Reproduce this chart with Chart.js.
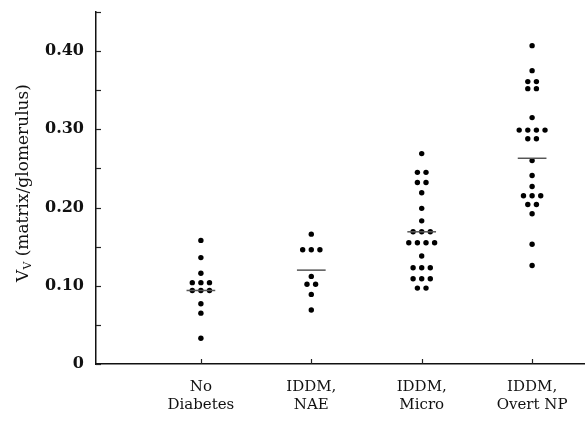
<!DOCTYPE html>
<html>
<head>
<meta charset="utf-8">
<script src="https://cdn.jsdelivr.net/npm/chart.js@4.4.1/dist/chart.umd.min.js"></script>
<style>
  html, body { margin: 0; padding: 0; background: #fff; }
  #wrap { width: 588px; height: 422px; position: relative; }
</style>
</head>
<body>
<div id="wrap"><canvas id="vvChart"></canvas></div>
<script>
// groups on the x axis
const groupLabels = [['No', 'Diabetes'], ['IDDM,', 'NAE'], ['IDDM,', 'Micro'], ['IDDM,', 'Overt NP']];

// Vv values (equal values sit side by side in a row)
const noDiabetes = [0.158, 0.136, 0.116, 0.104, 0.104, 0.104, 0.094, 0.094, 0.094, 0.077, 0.065, 0.033];
const iddmNae = [0.166, 0.146, 0.146, 0.146, 0.112, 0.102, 0.102, 0.089, 0.069];
const iddmMicro = [0.269, 0.245, 0.245, 0.232, 0.232, 0.219, 0.199, 0.183, 0.169, 0.169, 0.169,
    0.155, 0.155, 0.155, 0.155, 0.138, 0.123, 0.123, 0.123, 0.109, 0.109, 0.109, 0.097, 0.097];
const iddmOvert = [0.407, 0.375, 0.361, 0.361, 0.352, 0.352, 0.315, 0.299, 0.299, 0.299, 0.299,
    0.288, 0.288, 0.260, 0.241, 0.227, 0.215, 0.215, 0.215, 0.204, 0.204, 0.192, 0.153, 0.126];
const medians = [0.094, 0.120, 0.169, 0.263];

const yTickValues = [0, 0.10, 0.20, 0.30, 0.40];

const SLOT = 0.078;     // horizontal spacing of dots sharing a value (x units)
const HALF_BAR = 0.13;  // half width of the median bar

// spread points with equal value side by side, centred on the group
function dotPoints(values, groupIndex) {
    const rows = new Map();
    values.forEach(v => rows.set(v, (rows.get(v) || 0) + 1));
    const points = [];
    rows.forEach((count, v) => {
        for (let i = 0; i < count; i++) {
            points.push({ x: groupIndex + 1 + (i - (count - 1) / 2) * SLOT, y: v });
        }
    });
    return points;
}

const allGroups = [noDiabetes, iddmNae, iddmMicro, iddmOvert];

const datasets = [];
allGroups.forEach((values, i) => {
    datasets.push({
        type: 'line',
        data: [{ x: i + 1 - HALF_BAR, y: medians[i] }, { x: i + 1 + HALF_BAR, y: medians[i] }],
        borderColor: '#555',
        borderWidth: 1.5,
        pointRadius: 0,
        fill: false
    });
    datasets.push({
        type: 'scatter',
        data: dotPoints(values, i),
        backgroundColor: '#000',
        borderColor: '#000',
        borderWidth: 0,
        pointRadius: 2.7
    });
});

// inward tick marks and the rotated y title with subscript
const extrasPlugin = {
    id: 'extras',
    afterDraw(chart) {
        const ctx = chart.ctx;
        const xs = chart.scales.x;
        const ys = chart.scales.y;
        const area = chart.chartArea;
        ctx.save();
        ctx.strokeStyle = '#222';
        ctx.lineWidth = 1.2;
        ys.ticks.forEach(t => {
            const py = Math.round(ys.getPixelForValue(t.value)) + 0.5;
            ctx.beginPath();
            ctx.moveTo(area.left, py);
            ctx.lineTo(area.left + 5, py);
            ctx.stroke();
        });
        xs.ticks.forEach(t => {
            const px = Math.round(xs.getPixelForValue(t.value)) + 0.5;
            ctx.beginPath();
            ctx.moveTo(px, area.bottom);
            ctx.lineTo(px, area.bottom - 5);
            ctx.stroke();
        });

        // y axis title
        ctx.translate(28, 183);
        ctx.rotate(-Math.PI / 2);
        ctx.fillStyle = '#111';
        ctx.textBaseline = 'alphabetic';
        const big = '17px "DejaVu Serif"';
        const small = '11px "DejaVu Serif"';
        const rest = ' (matrix/glomerulus)';
        ctx.font = big;
        const wV = ctx.measureText('V').width;
        const wRest = ctx.measureText(rest).width;
        ctx.font = small;
        const wSub = ctx.measureText('V').width;
        let x = -(wV + wSub + wRest) / 2;
        ctx.font = big;
        ctx.fillText('V', x, 0);
        x += wV;
        ctx.font = small;
        ctx.fillText('V', x, 3);
        x += wSub;
        ctx.font = big;
        ctx.fillText(rest, x, 0);
        ctx.restore();
    }
};

new Chart(document.getElementById('vvChart'), {
    data: { datasets: datasets },
    options: {
        responsive: true,
        maintainAspectRatio: false,
        animation: false,
        layout: { padding: { left: 0, right: 1, top: 12, bottom: 0 } },
        plugins: {
            legend: { display: false },
            tooltip: { enabled: false }
        },
        scales: {
            x: {
                type: 'linear',
                min: 0.05,
                max: 4.47,
                afterBuildTicks: scale => {
                    scale.ticks = groupLabels.map((_, i) => ({ value: i + 1 }));
                },
                afterFit: scale => {
                    scale.height = 58;
                    scale.paddingLeft = 0;
                    scale.paddingRight = 0;
                },
                grid: { display: true, drawOnChartArea: false, drawTicks: false },
                border: { display: true, color: '#111', width: 1.5 },
                ticks: {
                    padding: 14,
                    color: '#111',
                    maxRotation: 0,
                    autoSkip: false,
                    font: { family: '"DejaVu Serif"', size: 15, lineHeight: 1.2 },
                    callback: value => groupLabels[Math.round(value) - 1] || ''
                }
            },
            y: {
                type: 'linear',
                min: 0,
                max: 0.45,
                afterFit: scale => {
                    scale.width = 96;
                    scale.paddingTop = 0;
                    scale.paddingBottom = 0;
                },
                grid: { display: true, drawOnChartArea: false, drawTicks: false },
                border: { display: true, color: '#111', width: 1.5 },
                ticks: {
                    stepSize: 0.05,
                    padding: 12,
                    color: '#111',
                    autoSkip: false,
                    font: { family: '"DejaVu Serif"', size: 16, weight: 'bold' },
                    callback: value => {
                        const hit = yTickValues.find(t => Math.abs(t - value) < 1e-6);
                        if (hit === undefined) return '';
                        return hit === 0 ? '0' : hit.toFixed(2);
                    }
                }
            }
        }
    },
    plugins: [extrasPlugin]
});
</script>
</body>
</html>
